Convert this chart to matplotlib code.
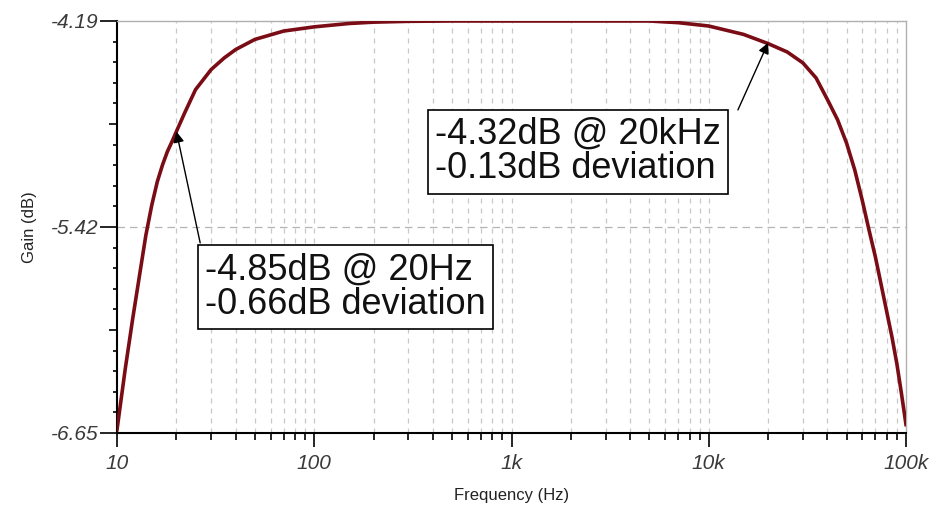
import numpy as np
import matplotlib
matplotlib.use("Agg")
import matplotlib.pyplot as plt
from matplotlib.ticker import FixedLocator, FixedFormatter, LogLocator, NullFormatter

plt.rcParams['font.family'] = ['Liberation Sans', 'DejaVu Sans']

# Data
freq_hz = [10, 11, 12, 13, 14, 15, 16, 17, 18, 19, 20, 22, 25, 30, 35, 40, 50, 70, 100, 150,
           200, 300, 500, 1000, 2000, 3000, 5000, 7000, 10000, 15000, 20000, 25000, 30000,
           35000, 40000, 45000, 50000, 55000, 60000, 65000, 70000, 75000, 80000, 85000,
           90000, 95000, 100000]
gain_db = [-6.63, -6.27, -5.97, -5.71, -5.47, -5.29, -5.15, -5.05, -4.97, -4.91, -4.85,
           -4.74, -4.60, -4.48, -4.41, -4.36, -4.30, -4.25, -4.225, -4.205, -4.197, -4.192,
           -4.19, -4.19, -4.19, -4.19, -4.19, -4.20, -4.22, -4.27, -4.325, -4.375, -4.44,
           -4.53, -4.66, -4.78, -4.92, -5.08, -5.26, -5.44, -5.60, -5.77, -5.93, -6.08,
           -6.24, -6.42, -6.60]

y_major = [-6.65, -5.42, -4.19]
y_major_labels = ['-6.65', '-5.42', '-4.19']
x_major = [10, 100, 1000, 10000, 100000]
x_major_labels = ['10', '100', '1k', '10k', '100k']

ann1_text = "-4.85dB @ 20Hz\n-0.66dB deviation"
ann1_point = (20, -4.85)
ann2_text = "-4.32dB @ 20kHz\n-0.13dB deviation"
ann2_point = (20000, -4.32)

fig = plt.figure(figsize=(9.46, 5.07), dpi=100)
ax = fig.add_axes([0.1237, 0.146, 0.8340, 0.8126])

ax.plot(freq_hz, gain_db, color='#7a0c16', lw=2.6, zorder=3)

ax.set_xscale('log')
ax.set_xlim(10, 100000)
ax.set_ylim(-6.65, -4.19)

# x ticks
ax.xaxis.set_major_locator(FixedLocator(x_major))
ax.xaxis.set_major_formatter(FixedFormatter(x_major_labels))
ax.xaxis.set_minor_locator(LogLocator(base=10, subs=np.arange(2, 10)))
ax.xaxis.set_minor_formatter(NullFormatter())
# y ticks
ax.yaxis.set_major_locator(FixedLocator(y_major))
ax.yaxis.set_major_formatter(FixedFormatter(y_major_labels))
y_minor = list(np.linspace(-6.65, -4.19, 21))
ax.yaxis.set_minor_locator(FixedLocator(y_minor))

ax.tick_params(axis='x', which='major', direction='out', length=10, width=1.2,
               color='black', labelsize=15, labelcolor='#3a3a3a', pad=5)
ax.tick_params(axis='x', which='minor', direction='out', length=5, width=1.2, color='black')
ax.tick_params(axis='y', which='major', direction='out', length=12, width=1.2,
               color='black', labelsize=15, labelcolor='#3a3a3a', pad=1)
ax.tick_params(axis='y', which='minor', direction='out', length=3, width=1.2, color='black')
for lab in ax.get_xticklabels() + ax.get_yticklabels():
    lab.set_fontstyle('italic')

# longer half-way minor ticks on y
fig.canvas.draw()
for t, v in zip(ax.yaxis.get_minor_ticks(), ax.yaxis.get_minorticklocs()):
    if any(abs(v - m) < 1e-6 for m in [-6.035, -4.805]):
        t.tick1line.set_markersize(6)

# grid
for xv in [10 ** d * s for d in range(1, 5) for s in range(1, 10)][1:]:
    ax.axvline(xv, color='#c8c8c8', lw=0.9, ls=(0, (4, 4)), zorder=1)
ax.axhline(-5.42, color='#b4b4b4', lw=0.9, ls=(0, (6, 4)), zorder=1)

for s in ['left', 'bottom']:
    ax.spines[s].set_color('black')
    ax.spines[s].set_linewidth(1.5)
for s in ['top', 'right']:
    ax.spines[s].set_color('#b0b0b0')
    ax.spines[s].set_linewidth(1.0)

ax.set_xlabel('Frequency (Hz)', fontsize=12, color='#222222')
ax.set_ylabel('Gain (dB)', fontsize=12, color='#222222')
ax.xaxis.set_label_coords(0.5, -0.133)
ax.yaxis.set_label_coords(-0.101, 0.5)

box = dict(boxstyle='square,pad=0.2', fc='white', ec='black', lw=1.2)
ax.text(0.1115, 0.439, ann1_text, transform=ax.transAxes, ha='left', va='top',
        fontsize=26, color='#111111', bbox=box, linespacing=0.98, zorder=5)
ax.text(0.403, 0.767, ann2_text, transform=ax.transAxes, ha='left', va='top',
        fontsize=26, color='#111111', bbox=box, linespacing=0.98, zorder=5)

arrow = dict(arrowstyle='-|>', color='black', lw=1.0, mutation_scale=16, shrinkA=0, shrinkB=0)
ax.annotate('', xy=ann1_point, xytext=(26.4, -5.515), arrowprops=arrow, zorder=4)
ax.annotate('', xy=ann2_point, xytext=(14060, -4.721), arrowprops=arrow, zorder=4)

fig.savefig('out.png', dpi=100)
